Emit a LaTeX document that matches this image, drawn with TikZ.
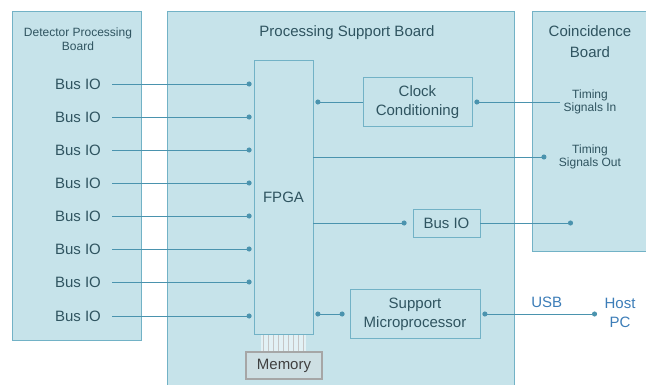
\documentclass[tikz,border=0pt]{standalone}
\usepackage{fontspec}
\setmainfont{Liberation Sans}
\usetikzlibrary{arrows.meta}
\definecolor{brdfill}{HTML}{C6E3EA}
\definecolor{brdline}{HTML}{72B2C6}
\definecolor{wire}{HTML}{4A93AE}
\definecolor{ink}{HTML}{2F5460}
\definecolor{usbink}{HTML}{3C7DB8}
\definecolor{memfill}{HTML}{CEDFE3}
\begin{document}
\begin{tikzpicture}[x=1pt, y=-1pt, font=\fontsize{15}{19}\selectfont, text=ink,
		board/.style={draw=brdline, fill=brdfill, line width=1pt},
		blk/.style={draw=brdline, line width=0.8pt, align=center},
		small/.style={font=\fontsize{12}{13.5}\selectfont, align=center},
		sig/.style={draw=wire, line width=0.8pt, -{Circle[length=5pt]}, shorten >=2pt}]
		\useasboundingbox (0,0) rectangle (646,385);
		\fill[white] (0,0) rectangle (646,385);
		\draw[board] (12,12) rectangle (141,340); \draw[board] (167,12) rectangle (514,395); \draw[board] (532,12) rectangle (660,252);

		\node[small] (dpb) at (78,39) {Detector Processing\\Board};
		\node (psb) at (347,33) {Processing Support Board};
		\node[align=center, font=\fontsize{15}{21}\selectfont] (cb) at (590,42) {Coincidence\\Board};

		\node[blk, minimum width=59pt, minimum height=274pt] (fpga) at (283.5,197) {FPGA};
		\node[blk, minimum width=109pt, minimum height=49pt] (clk) at (417.5,102) {Clock\\Conditioning};
		\node[small] (tsin) at (590,102) {Timing\\Signals In};
		\node[small] (tsout) at (590,157) {Timing\\Signals Out};
		\node[blk, minimum width=67pt, minimum height=28pt] (bior) at (446.5,223) {Bus IO};
		\node[blk, minimum width=130pt, minimum height=49pt] (smp) at (415,314) {Support\\Microprocessor};
		\node[text=usbink, align=center] (host) at (620,313) {Host\\PC};
		\node[draw=gray!70, line width=1.5pt, fill=memfill, text=black!75, minimum width=76pt, minimum height=27pt] (mem) at (284,365.5) {Memory};
		\coordinate (cbio) at (575,223);

		% bus lines from the detector board
		\foreach \i/\y in {1/84,2/117,3/150,4/183,5/216,6/249,7/282,8/316} {
			\node (bio\i) at (78,\y) {Bus IO};
			\draw[sig, shorten <=8pt] (bio\i.east) -- (bio\i.east -| fpga.west);
		}

		% memory bus
		\fill[white!50!brdfill] (261,335) rectangle (306,351);
		\foreach \x in {263,268,...,303} \draw[gray!45, line width=0.8pt] (\x,335) -- (\x,351);

		\draw[sig] (tsin.west) -- (clk.east);
		\draw[sig] (clk.west) -- (clk.west -| fpga.east);
		\draw[sig, shorten >=9pt] (fpga.east |- tsout.west) -- (tsout.west);
		\draw[sig, shorten >=6pt] (fpga.east |- bior.west) -- (bior.west);
		\draw[sig] (bior.east) -- (cbio);
		\draw[sig, {Circle[length=5pt]}-{Circle[length=5pt]}, shorten <=2pt, shorten >=5pt] (fpga.east |- smp.west) -- (smp.west);
		\draw[sig, {Circle[length=5pt]}-{Circle[length=5pt]}, shorten <=2pt, shorten >=4pt] (smp.east) -- node[above=3pt, pos=0.55, text=usbink] (usb) {USB} (host.west |- smp.east);
	\end{tikzpicture}
\end{document}
